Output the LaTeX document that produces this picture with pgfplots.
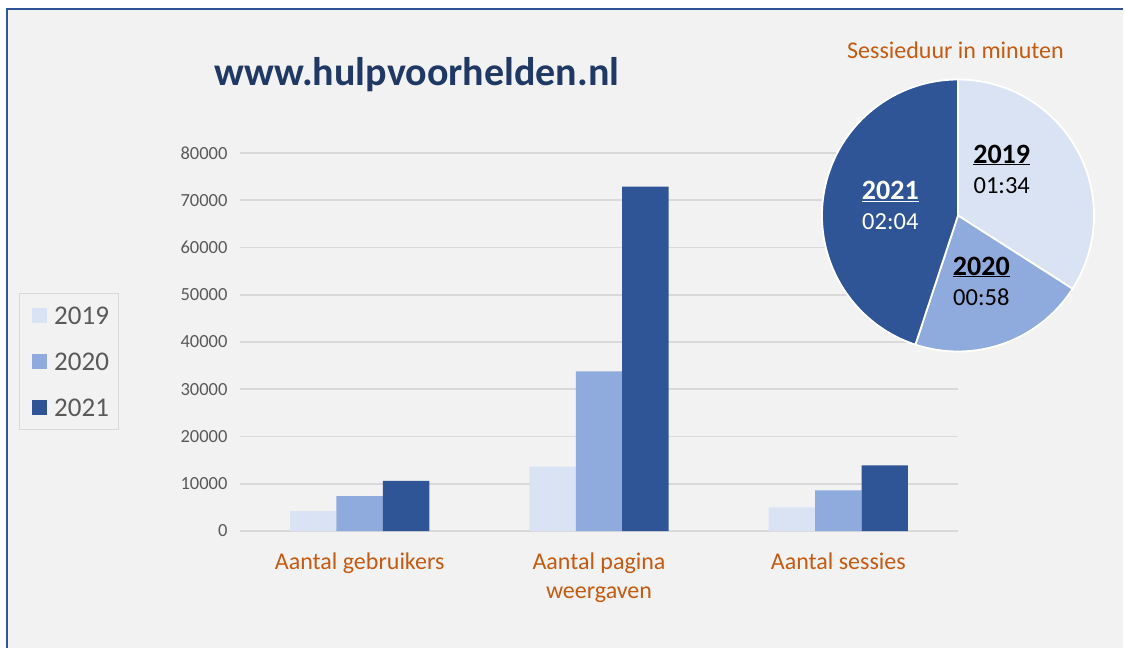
\documentclass[border=0pt]{standalone}
\usepackage{pgfplots}
\pgfplotsset{compat=1.18}
\usepackage{fontspec}
\setmainfont{Carlito}
\definecolor{bg}{HTML}{F2F2F2}
\definecolor{frame}{HTML}{2F5597}
\definecolor{titleblue}{HTML}{1F3864}
\definecolor{catorange}{HTML}{C55A11}
\definecolor{txtgray}{HTML}{595959}
\definecolor{gridgray}{HTML}{D9D9D9}
\definecolor{cA}{HTML}{DAE3F3}
\definecolor{cB}{HTML}{8FAADC}
\definecolor{cC}{HTML}{2F5597}
\begin{document}
\begin{tikzpicture}
% background panel
\fill[white] (0pt,0pt) rectangle (1125pt,-648pt);
\fill[bg] (7pt,-9pt) rectangle (1123pt,-648pt);
\draw[frame, line width=2pt] (7pt,-648pt) -- (7pt,-9pt) -- (1123pt,-9pt);

\begin{axis}[
  at={(240pt,-531pt)}, anchor=south west,
  scale only axis, width=718pt, height=378pt,
  xmin=-0.5, xmax=2.5, ymin=0, ymax=80000,
  axis line style={draw=none},
  tick style={draw=none}, major tick length=0pt,
  ytick={0,10000,...,80000},
  scaled y ticks=false,
  yticklabel style={font=\fontsize{18.5}{22}\selectfont, text=txtgray, xshift=-9pt,
    /pgf/number format/.cd, fixed, 1000 sep={}, assume math mode=true},
  xtick={0,1,2},
  xticklabels={Aantal gebruikers,{Aantal pagina\\weergaven},Aantal sessies},
  xticklabel style={font=\fontsize{24}{29}\selectfont, text=catorange, align=center, yshift=-18pt},
  ymajorgrids, grid style={line width=1.8pt, gridgray},
  ybar, bar width=0.194,
]
\addplot[fill=cA, draw=none, bar shift=-0.194] coordinates {(0,4200) (1,13600) (2,5000)};
\addplot[fill=cB, draw=none, bar shift=0] coordinates {(0,7400) (1,33800) (2,8600)};
\addplot[fill=cC, draw=none, bar shift=0.194] coordinates {(0,10600) (1,72900) (2,13900)};
\end{axis}

% title
\node[anchor=base, font=\bfseries\fontsize{40}{48}\selectfont, text=titleblue] at (417pt,-85pt) {www.hulpvoorhelden.nl};

% legend
\draw[gridgray, line width=1pt] (19pt,-293pt) rectangle (118pt,-429pt);
\fill[cA] (32pt,-307.5pt) rectangle (47pt,-322.5pt);
\fill[cB] (32pt,-353.5pt) rectangle (47pt,-368.5pt);
\fill[cC] (32pt,-399.5pt) rectangle (47pt,-414.5pt);
\node[anchor=base west, inner sep=0pt, font=\fontsize{27}{32}\selectfont, text=txtgray] at (54pt,-324pt) {2019};
\node[anchor=base west, inner sep=0pt, font=\fontsize{27}{32}\selectfont, text=txtgray] at (54pt,-370pt) {2020};
\node[anchor=base west, inner sep=0pt, font=\fontsize{27}{32}\selectfont, text=txtgray] at (54pt,-416.5pt) {2021};

% pie: session duration in seconds
\def\sA{94}\def\sB{58}\def\sC{124}
\pgfmathsetmacro\tot{\sA+\sB+\sC}
\pgfmathsetmacro\aA{90-360*(\sA/\tot)}
\pgfmathsetmacro\aB{\aA-360*(\sB/\tot)}
\coordinate (pc) at (958pt,-215.5pt);
\def\R{136pt}
\filldraw[fill=cA, draw=white, line width=1.8pt] (pc) -- ++(90:\R) arc[start angle=90, end angle=\aA, radius=\R] -- cycle;
\filldraw[fill=cB, draw=white, line width=1.8pt] (pc) -- ++(\aA:\R) arc[start angle=\aA, end angle=\aB, radius=\R] -- cycle;
\filldraw[fill=cC, draw=white, line width=1.8pt] (pc) -- ++(\aB:\R) arc[start angle=\aB, end angle=-270, radius=\R] -- cycle;

\node[anchor=base, font=\fontsize{24}{29}\selectfont, text=catorange] at (955.5pt,-58pt) {Sessieduur in minuten};

\node[anchor=base, inner sep=0pt, font=\bfseries\fontsize{28}{33}\selectfont] at (1001.7pt,-163pt) {\underline{2019}};
\node[anchor=base, inner sep=0pt, font=\fontsize{24.5}{29}\selectfont] at (1001.7pt,-193.5pt) {01:34};
\node[anchor=base, inner sep=0pt, font=\bfseries\fontsize{28}{33}\selectfont] at (981.3pt,-275pt) {\underline{2020}};
\node[anchor=base, inner sep=0pt, font=\fontsize{24.5}{29}\selectfont] at (981.3pt,-305pt) {00:58};
\node[anchor=base, inner sep=0pt, font=\bfseries\fontsize{28}{33}\selectfont, text=white] at (890.3pt,-199.3pt) {\underline{2021}};
\node[anchor=base, inner sep=0pt, font=\fontsize{24.5}{29}\selectfont, text=white] at (890.3pt,-229.3pt) {02:04};

\pgfresetboundingbox
\useasboundingbox (0pt,0pt) rectangle (1125pt,-648pt);
\end{tikzpicture}
\end{document}
